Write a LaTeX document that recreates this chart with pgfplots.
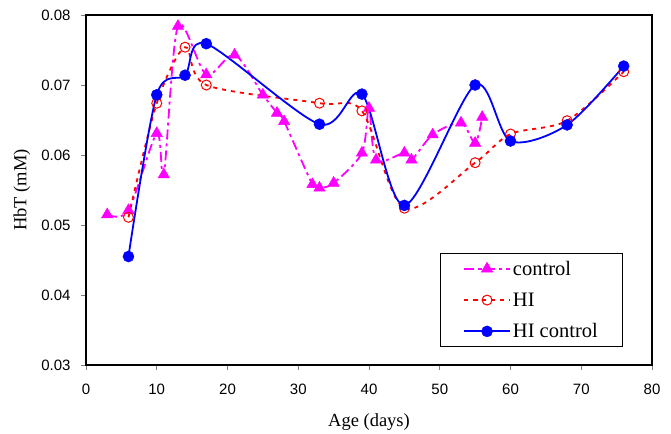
\documentclass[border=0pt]{standalone}
\usepackage{pgfplots}
\pgfplotsset{compat=1.18}
\usepackage{fontspec}
\setmainfont{Liberation Serif}
\newfontfamily\arialf{Liberation Sans}
\definecolor{cmag}{RGB}{255,0,255}
\definecolor{cred}{RGB}{255,0,0}
\definecolor{cblue}{RGB}{0,0,255}
\begin{document}
\begin{tikzpicture}
\begin{axis}[
  name=ax,
  width=566pt, height=350pt, scale only axis,
  xmin=0, xmax=80, ymin=0.03, ymax=0.08,
  xtick={0,10,...,80},
  ytick={0.03,0.04,0.05,0.06,0.07,0.08},
  scaled y ticks=false,
  yticklabel style={/pgf/number format/fixed, /pgf/number format/fixed zerofill, /pgf/number format/precision=2, xshift=-7pt},
  /pgf/number format/assume math mode=true,
  tick label style={font=\arialf\fontsize{15pt}{18pt}\selectfont},
  xticklabel style={yshift=-10pt},
  tick pos=left, tick align=outside,
  major tick length=5pt,
  tick style={gray, line width=0.8pt},
  axis line style={line width=1.6pt},
  xlabel={Age (days)}, ylabel={HbT (mM)},
  every axis x label/.style={at={(axis description cs:0.5,0)}, yshift=-57pt, anchor=center, font=\fontsize{18.5pt}{22pt}\selectfont},
  every axis y label/.style={at={(axis description cs:0,0.5)}, xshift=-64pt, rotate=90, anchor=center, font=\fontsize{18.5pt}{22pt}\selectfont},
  legend style={at={(rel axis cs:0.625,0.051)}, anchor=south west,
    font=\fontsize{20.5pt}{24pt}\selectfont, draw=black, line width=0.8pt,
    inner xsep=23pt, inner ysep=5.5pt, row sep=12pt},
  legend cell align=left,
  legend image code/.code={\draw[mark repeat=2,mark phase=2,#1, line width=1.8pt] plot coordinates {(0pt,0pt) (23pt,0pt) (46pt,0pt)};},
]
\addplot[cmag, line width=1.8pt, smooth, dash pattern=on 10pt off 4pt on 3pt off 4pt,
  mark=triangle*, mark size=6.5pt, mark options={solid, fill=cmag, line width=0.5pt}]
  coordinates {(3,0.0515) (6,0.0521) (10,0.0631) (11,0.0572) (13,0.0784) (17,0.0715)
  (21,0.0743) (25,0.0686) (27,0.0660) (28,0.0648) (32,0.0558) (33,0.0553) (35,0.0560)
  (39,0.0603) (40,0.0667) (41,0.0593) (45,0.0603) (46,0.0593) (49,0.0629) (53,0.0646)
  (55,0.0617) (56,0.0654)};
\addlegendentry{control}
\addplot[cred, line width=1.8pt, smooth, dash pattern=on 4pt off 5pt,
  mark=o, mark size=5pt, mark options={solid, fill=white, line width=1pt}]
  coordinates {(6,0.0511) (10,0.0674) (14,0.0754) (17,0.0700) (33,0.0674) (39,0.0663)
  (45,0.0524) (55,0.0589) (60,0.0630) (68,0.0649) (76,0.0719)};
\addlegendentry{HI}
\addplot[cblue, line width=1.8pt, smooth,
  mark=*, mark size=5.5pt, mark options={solid, fill=cblue, line width=0.5pt}]
  coordinates {(6,0.0455) (10,0.0686) (14,0.0714) (17,0.0759) (33,0.0644) (39,0.0687)
  (45,0.0528) (55,0.0700) (60,0.0620) (68,0.0643) (76,0.0727)};
\addlegendentry{HI control}
\end{axis}
\path (ax.south west) ++(-86pt,-68pt) coordinate (bl);
\path (ax.north east) ++(19pt,15pt) coordinate (tr);
\path (bl) rectangle (tr);
\end{tikzpicture}
\end{document}
